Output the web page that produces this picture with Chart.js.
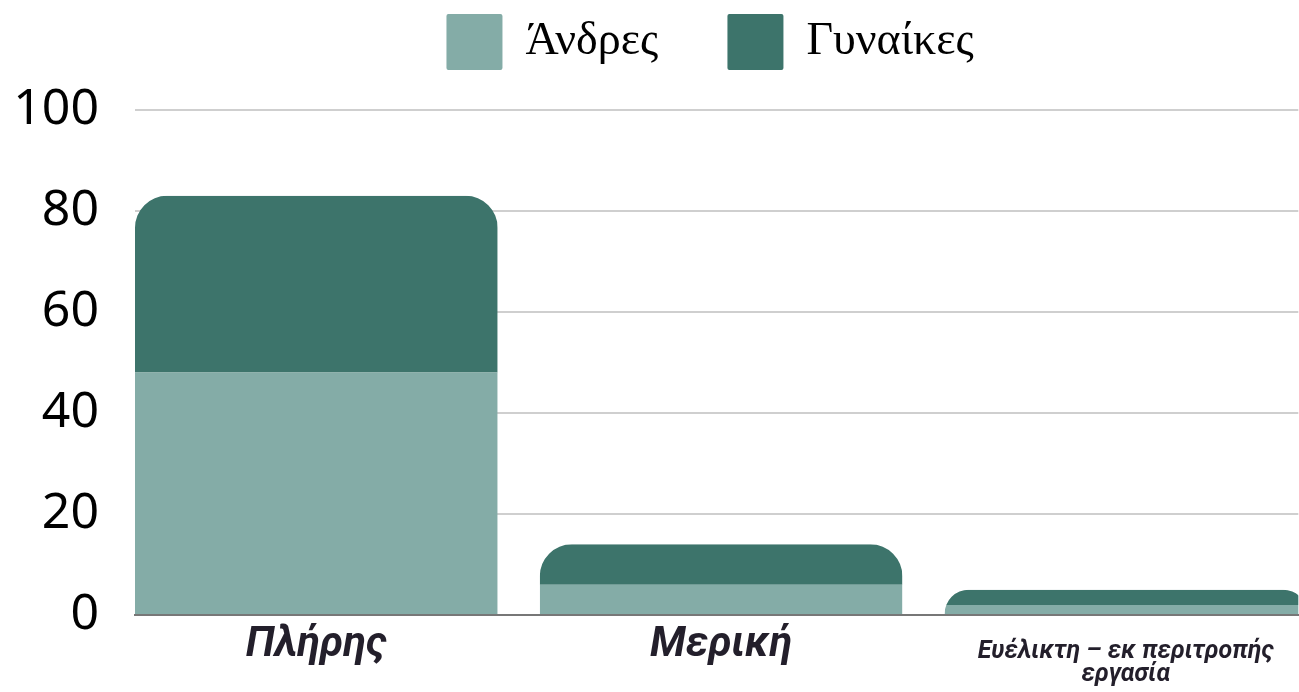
<!DOCTYPE html>
<html>
<head>
<meta charset="utf-8">
<script src="https://cdn.jsdelivr.net/npm/chart.js@4.4.1/dist/chart.umd.min.js"></script>
<style>
  html, body { margin: 0; padding: 0; background: #ffffff; overflow: hidden; }
  #wrap { width: 1299px; height: 692px; position: relative; }
</style>
</head>
<body>
<div id="wrap"><canvas id="c"></canvas></div>
<script>
// ---- data ----
const categories = ['Πλήρης', 'Μερική', ['Ευέλικτη – εκ περιτροπής', 'εργασία']];
const seriesNames = ['Άνδρες', 'Γυναίκες'];
const menValues = [48, 6, 2];
const womenValues = [35, 8, 3];
const yTickValues = [0, 20, 40, 60, 80, 100];

// ---- styles ----
const lightGreen = '#84aca7';
const darkGreen = '#3d746b';

const toPoints = arr => arr.map((v, i) => ({ x: i, y: v }));

// rounds the top of each whole stack
const stackRound = {
  id: 'stackRound',
  beforeDatasetsDraw(chart) {
    const ctx = chart.ctx;
    const lower = chart.getDatasetMeta(0).data;
    const upper = chart.getDatasetMeta(1).data;
    ctx.save();
    ctx.beginPath();
    lower.forEach((el, i) => {
      const top = Math.min(el.y, upper[i].y);
      const h = el.base - top;
      const left = el.x - el.width / 2;
      const r = Math.min(32, h, el.width / 2);
      ctx.roundRect(left, top, el.width, h + 1, [r, r, 0, 0]);
    });
    ctx.clip();
  },
  afterDatasetsDraw(chart) { chart.ctx.restore(); }
};

// extra space between legend and plot
const legendGap = {
  id: 'legendGap',
  beforeLayout(chart) {
    const lg = chart.legend;
    if (lg && !lg.__gap) {
      const fit = lg.fit;
      lg.fit = function () { fit.call(this); this.height += 30; };
      lg.__gap = true;
    }
  }
};

new Chart(document.getElementById('c'), {
  type: 'bar',
  data: {
    datasets: [
      { label: seriesNames[0], data: toPoints(menValues), backgroundColor: lightGreen, borderWidth: 0 },
      { label: seriesNames[1], data: toPoints(womenValues), backgroundColor: darkGreen, borderWidth: 0 }
    ]
  },
  plugins: [stackRound, legendGap],
  options: {
    responsive: true,
    maintainAspectRatio: false,
    animation: false,
    layout: { padding: { left: 0, right: 0, top: 0, bottom: 0 } },
    datasets: { bar: { categoryPercentage: 1, barPercentage: 0.896 } },
    plugins: {
      tooltip: { enabled: false },
      legend: {
        position: 'top',
        fullSize: false,
        labels: {
          boxWidth: 56,
          boxHeight: 56,
          useBorderRadius: true,
          borderRadius: 2,
          padding: 14,
          color: '#000000',
          font: { family: 'Liberation Serif', size: 46 },
          generateLabels(chart) {
            const items = Chart.defaults.plugins.legend.labels.generateLabels(chart);
            items.forEach((it, i) => {
              it.text = it.text + (i < items.length - 1 ? '\u2003\u2009' : '\u2009\u200A');
            });
            return items;
          }
        }
      }
    },
    scales: {
      x: {
        type: 'linear',
        stacked: true,
        offset: false,
        min: -0.448,
        max: 2.426,
        afterFit: scale => { scale.height = 77; },
        grid: { display: false, drawTicks: false },
        border: { display: true, color: '#777777', width: 2 },
        ticks: {
          stepSize: 1,
          includeBounds: false,
          autoSkip: false,
          maxRotation: 0,
          padding: 25,
          color: '#231f2b',
          callback: v => categories[v],
          font: c => c.index === 2
            ? { family: 'Roboto', size: 25, weight: 'bold', style: 'italic', lineHeight: '23px' }
            : { family: 'Roboto', size: 42, weight: 'bold', style: 'italic', lineHeight: '10px' }
        }
      },
      y: {
        stacked: true,
        min: 0,
        max: 100,
        afterBuildTicks: scale => { scale.ticks = yTickValues.map(v => ({ value: v })); },
        afterFit: scale => { scale.width = 135; },
        grid: {
          drawTicks: false,
          lineWidth: 2,
          color: c => (c.tick && c.tick.value === 0) ? 'rgba(0,0,0,0)' : '#cfcfcf'
        },
        border: { display: false },
        ticks: {
          padding: 36,
          color: '#000000',
          font: { family: 'Noto Sans', size: 50 }
        }
      }
    }
  }
});
</script>
</body>
</html>
